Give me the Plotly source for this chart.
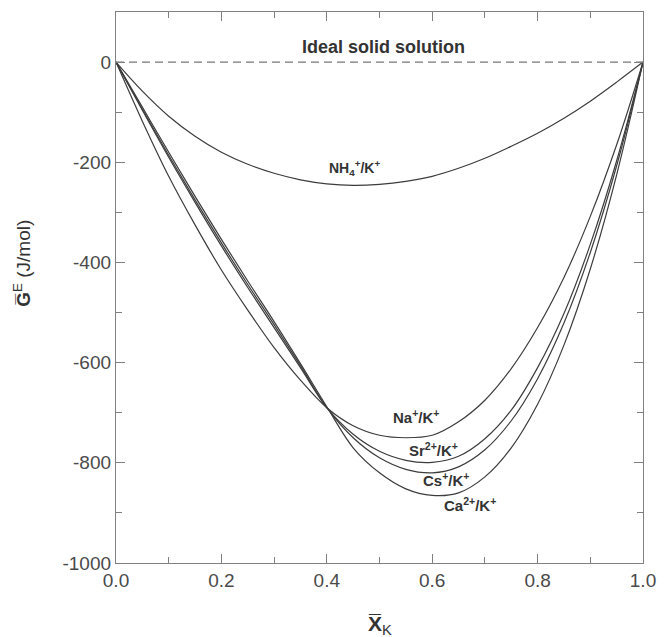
import plotly.graph_objects as go

# Mole fraction of K in the solid (X_K), read at 0.05 steps
x_k = [0.0, 0.05, 0.1, 0.15, 0.2, 0.25, 0.3, 0.35, 0.4, 0.45, 0.5,
       0.55, 0.6, 0.65, 0.7, 0.75, 0.8, 0.85, 0.9, 0.95, 1.0]
g_nh4 = [0, -58, -108, -148, -180, -204, -222, -235, -243, -246, -244,
         -238, -228, -212, -192, -168, -142, -112, -78, -40, 0]
g_na = [0, -118, -228, -325, -415, -495, -570, -635, -690, -726, -745,
        -750, -745, -718, -675, -612, -530, -430, -308, -165, 0]
g_sr = [0, -96, -190, -280, -367, -450, -530, -610, -690, -743, -777,
        -795, -799, -787, -752, -695, -610, -502, -364, -197, 0]
g_cs = [0, -94, -186, -275, -361, -444, -524, -606, -690, -750, -790,
        -813, -820, -808, -774, -716, -632, -521, -380, -207, 0]
g_ca = [0, -90, -180, -268, -354, -437, -518, -602, -688, -770, -820,
        -852, -865, -860, -828, -770, -683, -565, -413, -225, 0]

x_ideal = [0.0, 1.0]
g_ideal = [0, 0]

labels = ["NH<sub>4</sub><sup>+</sup>/K<sup>+</sup>", "Na<sup>+</sup>/K<sup>+</sup>",
          "Sr<sup>2+</sup>/K<sup>+</sup>", "Cs<sup>+</sup>/K<sup>+</sup>",
          "Ca<sup>2+</sup>/K<sup>+</sup>"]
label_x = [0.452, 0.57, 0.603, 0.627, 0.672]
label_y = [-212, -708, -773, -833, -883]

x_ticks = [0.0, 0.2, 0.4, 0.6, 0.8, 1.0]
x_ticktext = ["0.0", "0.2", "0.4", "0.6", "0.8", "1.0"]
y_ticks = [0, -200, -400, -600, -800, -1000]
y_ticktext = ["0", "-200", "-400", "-600", "-800", "-1000"]

LINE = "#3c3c3c"
AX = "#808080"
TXT = "#4a4a4a"
FONT = "Liberation Sans, Arial, sans-serif"

fig = go.Figure()
fig.add_trace(go.Scatter(x=x_ideal, y=g_ideal, mode="lines",
                         line=dict(color="#777777", width=1.3, dash="8px,5px")))
for ys in [g_nh4, g_na, g_sr, g_cs, g_ca]:
    fig.add_trace(go.Scatter(x=x_k, y=ys, mode="lines",
                             line=dict(color=LINE, width=1.2, shape="spline", smoothing=1.0)))

for i, (t, lx, ly) in enumerate(zip(labels, label_x, label_y)):
    fig.add_annotation(x=lx, y=ly, text="<b>" + t + "</b>", showarrow=False,
                       font=dict(family=FONT, size=14 if i == 0 else 15, color="#333333"))

fig.add_annotation(x=0.508, y=30, text="<b>Ideal solid solution</b>", showarrow=False,
                   font=dict(family=FONT, size=18, color="#333333"))

# axis titles
fig.add_annotation(xref="paper", yref="paper", x=-0.205, y=0.545,
                   text="<b>G\u0305</b><sup>E</sup> (J/mol)", textangle=-90, showarrow=False,
                   font=dict(family=FONT, size=19, color="#333333"))
fig.add_annotation(xref="paper", yref="paper", x=0.5, y=-0.14,
                   text="<b>X\u0305</b><sub>K</sub>", showarrow=False,
                   font=dict(family=FONT, size=21, color="#333333"))

common = dict(ticks="inside", ticklen=9, tickwidth=1, tickcolor=AX,
              showline=True, linecolor=AX, linewidth=1.3,
              showgrid=False, zeroline=False)

fig.update_layout(
    xaxis=dict(range=[0, 1], tickvals=x_ticks, ticktext=x_ticktext,
               minor=dict(dtick=0.1, ticks="inside", ticklen=6, tickcolor=AX, tickwidth=1),
               tickfont=dict(family=FONT, size=19, color=TXT), **common),
    yaxis=dict(range=[-1000, 100], tickvals=y_ticks, ticktext=y_ticktext,
               minor=dict(dtick=100, ticks="inside", ticklen=6, tickcolor=AX, tickwidth=1),
               tickfont=dict(family=FONT, size=19, color=TXT), **common),
    xaxis2=dict(range=[0, 1], overlaying="x", side="top", tickvals=x_ticks,
                showticklabels=False,
                minor=dict(dtick=0.1, ticks="inside", ticklen=6, tickcolor=AX, tickwidth=1),
                **common),
    yaxis2=dict(range=[-1000, 100], overlaying="y", side="right", tickvals=y_ticks,
                showticklabels=False,
                minor=dict(dtick=100, ticks="inside", ticklen=6, tickcolor=AX, tickwidth=1),
                **common),
)
# invisible trace to activate the mirrored axes
fig.add_trace(go.Scatter(x=x_ideal, y=g_ideal, xaxis="x2", yaxis="y2", mode="lines",
                         line=dict(width=0), hoverinfo="skip", showlegend=False))

fig.update_layout(width=668, height=637, showlegend=False,
                  plot_bgcolor="white", paper_bgcolor="white",
                  margin=dict(l=116, r=16, t=12, b=74))

fig.write_html("out.html")
